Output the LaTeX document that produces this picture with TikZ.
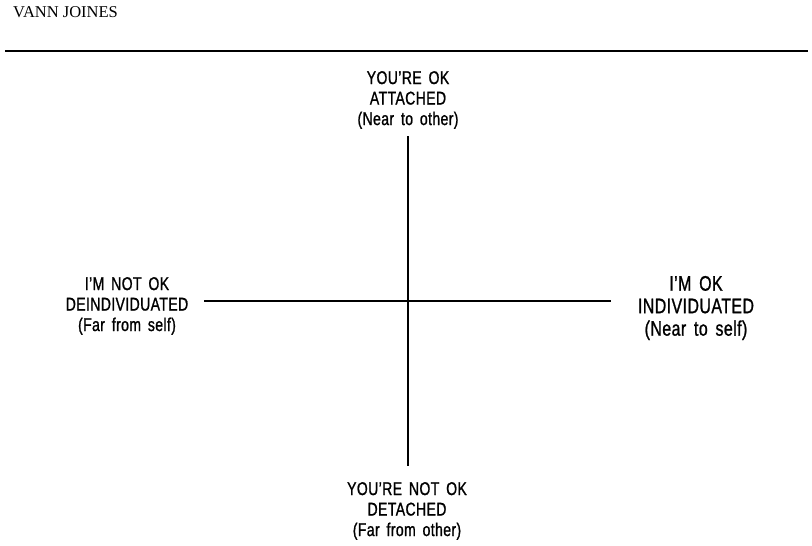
\documentclass[tikz,border=0pt]{standalone}
\usepackage{fontspec}
\setmainfont{Liberation Serif}
\newfontfamily\labelfont[FakeStretch=0.76,FakeBold=1,LetterSpace=2,WordSpace=1.6]{Liberation Sans}
\tikzset{
  axislabel/.style={align=center, inner sep=0pt,
    font=\labelfont\fontsize{18.5}{20.5}\selectfont},
  biglabel/.style={align=center, inner sep=0pt,
    font=\labelfont\fontsize{21}{22.5}\selectfont},
  axis/.style={line width=1.4pt},
  rule/.style={line width=2pt}
}
\begin{document}
\begin{tikzpicture}[x=1pt,y=-1pt]
  \useasboundingbox (0,0) rectangle (812,546);
  % running head
  \node[anchor=base west, inner sep=0pt, font=\fontsize{16.5}{18}\selectfont] (head) at (13,17.5) {VANN JOINES};
  \coordinate (ruleL) at (5,51);
  \coordinate (ruleR) at (808,51);
  \draw[rule] (ruleL) -- (ruleR);
  % axis ends
  \coordinate (top) at (408,136);
  \coordinate (bottom) at (408,466);
  \coordinate (left) at (204,301);
  \coordinate (right) at (611,301);
  \draw[axis] (top) -- (bottom);
  \draw[axis] (left) -- (right);
  % pole labels
  \node[axislabel] (north) at (408,100) {YOU’RE OK\\ATTACHED\\(Near to other)};
  \node[axislabel] (west) at (127,306) {I’M NOT OK\\DEINDIVIDUATED\\(Far from self)};
  \node[biglabel] (east) at (696,308) {I’M OK\\INDIVIDUATED\\(Near to self)};
  \node[axislabel] (south) at (407,511) {YOU’RE NOT OK\\DETACHED\\(Far from other)};
\end{tikzpicture}
\end{document}
